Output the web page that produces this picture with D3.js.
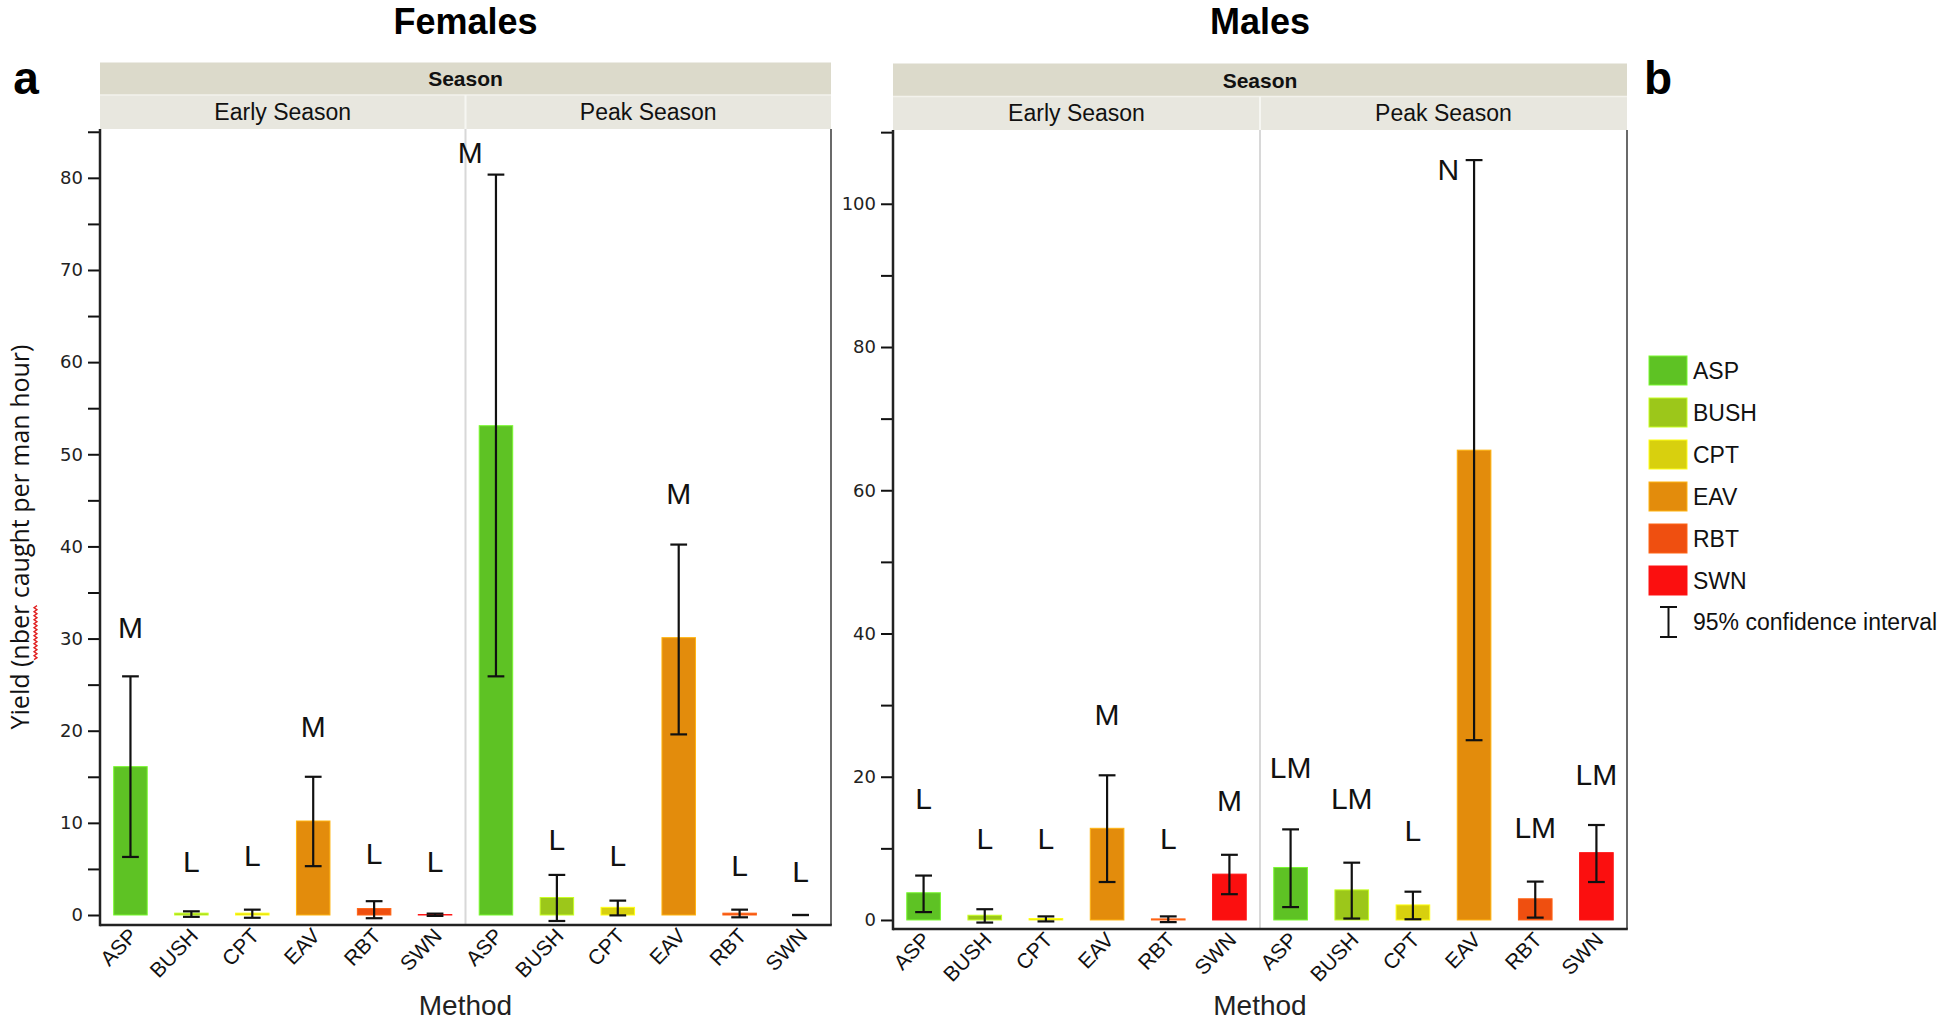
<!DOCTYPE html>
<html><head><meta charset="utf-8">
<script src="https://cdn.jsdelivr.net/npm/d3@7"></script>
<style>body{margin:0;background:#fff}svg{display:block}</style>
</head><body>
<svg id="chart" width="1960" height="1020"></svg>
<script>
// ---------------- data ----------------
const methods = ["ASP", "BUSH", "CPT", "EAV", "RBT", "SWN"];
const seasons = ["Early Season", "Peak Season"];
const methodColors = ["#5ec224", "#9cc71a", "#d8d00e", "#e38c0c", "#ef4f10", "#fb0f0f"];

const femaleEarly       = [16.1, 0.2, 0.2, 10.2, 0.7, 0.05];
const femaleEarlyLo     = [6.3, -0.2, -0.3, 5.3, -0.35, -0.1];
const femaleEarlyHi     = [25.9, 0.4, 0.58, 15.0, 1.5, 0.15];
const femaleEarlyLetters  = ["M", "L", "L", "M", "L", "L"];
const femaleEarlyLetterAt = [31.3, 5.9, 6.5, 20.5, 6.7, 5.9];

const femalePeak        = [53.1, 1.9, 0.83, 30.1, 0.2, 0];
const femalePeakLo      = [25.9, -0.65, -0.04, 19.6, -0.25, 0];
const femalePeakHi      = [80.35, 4.35, 1.56, 40.2, 0.58, 0];
const femalePeakLetters   = ["M", "L", "L", "M", "L", "L"];
const femalePeakLetterAt  = [82.8, 8.3, 6.5, 45.8, 5.4, 4.8];

const maleEarly         = [3.8, 0.66, 0.2, 12.8, 0.15, 6.4];
const maleEarlyLo       = [1.1, -0.36, -0.2, 5.3, -0.3, 3.6];
const maleEarlyHi       = [6.2, 1.5, 0.5, 20.2, 0.5, 9.1];
const maleEarlyLetters    = ["L", "L", "L", "M", "L", "M"];
const maleEarlyLetterAt   = [17.0, 11.5, 11.5, 28.7, 11.5, 16.8];

const malePeak          = [7.33, 4.2, 2.1, 65.6, 2.96, 9.4];
const malePeakLo        = [1.8, 0.2, 0.1, 25.1, 0.33, 5.3];
const malePeakHi        = [12.65, 8.0, 3.95, 106.1, 5.36, 13.26];
const malePeakLetters     = ["LM", "LM", "L", "N", "LM", "LM"];
const malePeakLetterAt    = [21.3, 17.0, 12.6, 104.9, 13.0, 20.4];

const femaleTicks = [0, 10, 20, 30, 40, 50, 60, 70, 80];
const femaleMinorTicks = [5, 15, 25, 35, 45, 55, 65, 75, 85];
const maleTicks = [0, 20, 40, 60, 80, 100];
const maleMinorTicks = [10, 30, 50, 70, 90, 110];

const titles = ["Females", "Males"];
const panelLetters = ["a", "b"];
const headerTitle = "Season";
const xTitle = "Method";
const yTitle = "Yield (nber caught per man hour)";
const ciLabel = "95% confidence interval";

// ---------------- helpers ----------------
function rows(season, vals, lo, hi, letters, at) {
  return methods.map((m, i) => ({
    key: season + "|" + m, season, method: m, color: methodColors[i],
    v: vals[i], lo: lo[i], hi: hi[i], letter: letters[i], at: at[i]
  }));
}
const femaleData = rows(seasons[0], femaleEarly, femaleEarlyLo, femaleEarlyHi, femaleEarlyLetters, femaleEarlyLetterAt)
  .concat(rows(seasons[1], femalePeak, femalePeakLo, femalePeakHi, femalePeakLetters, femalePeakLetterAt));
const maleData = rows(seasons[0], maleEarly, maleEarlyLo, maleEarlyHi, maleEarlyLetters, maleEarlyLetterAt)
  .concat(rows(seasons[1], malePeak, malePeakLo, malePeakHi, malePeakLetters, malePeakLetterAt));

const svg = d3.select("#chart");
const SANS = "'Liberation Sans', Arial, Helvetica, sans-serif";

function drawPanel(cfg) {
  const g = svg.append("g");
  const { x0, x1, yTop, yBottom, hTop, hMid, domain, data, ticks, minor, title } = cfg;

  const x = d3.scaleBand().domain(data.map(d => d.key)).range([x0, x1])
    .paddingInner(0.45).paddingOuter(0.225);
  const xs = d3.scaleBand().domain(seasons).range([x0, x1]);
  const y = d3.scaleLinear().domain(domain).range([yBottom, yTop]);

  // title
  g.append("text").attr("x", (x0 + x1) / 2).attr("y", 34).attr("text-anchor", "middle")
    .style("font", "bold 36px " + SANS).attr("fill", "#000").text(title);

  // header bands
  g.append("rect").attr("x", x0).attr("y", hTop).attr("width", x1 - x0).attr("height", hMid - hTop).attr("fill", "#dcdacb");
  g.append("rect").attr("x", x0).attr("y", hMid).attr("width", x1 - x0).attr("height", yTop - hMid).attr("fill", "#e8e7df");
  g.append("line").attr("x1", x0).attr("x2", x1).attr("y1", hMid).attr("y2", hMid).attr("stroke", "#f3f2ec").attr("stroke-width", 1.5);
  g.append("text").attr("x", (x0 + x1) / 2).attr("y", (hTop + hMid) / 2 + 7.5).attr("text-anchor", "middle")
    .style("font", "bold 21px " + SANS).attr("fill", "#111").text(headerTitle);
  g.append("line").attr("x1", xs(seasons[1])).attr("x2", xs(seasons[1])).attr("y1", hMid).attr("y2", yTop)
    .attr("stroke", "#f6f6f2").attr("stroke-width", 2);
  g.selectAll(".sl").data(seasons).join("text")
    .attr("x", d => xs(d) + xs.bandwidth() / 2).attr("y", (hMid + yTop) / 2 + 8).attr("text-anchor", "middle")
    .style("font", "23px " + SANS).attr("fill", "#111").text(d => d);

  // season divider in plot
  g.append("line").attr("x1", xs(seasons[1])).attr("x2", xs(seasons[1])).attr("y1", yTop).attr("y2", yBottom)
    .attr("stroke", "#d8d8d8").attr("stroke-width", 2);

  // bars
  g.selectAll(".bar").data(data).join("rect")
    .attr("x", d => x(d.key)).attr("width", x.bandwidth())
    .attr("y", d => y(Math.max(0, d.v))).attr("height", d => Math.abs(y(0) - y(d.v)))
    .attr("fill", d => d.color)
    .attr("stroke", d => d3.color(d.color).brighter(0.7)).attr("stroke-width", 1);

  // error bars
  const cap = x.bandwidth() * 0.25;
  const eb = g.selectAll(".eb").data(data).join("g").attr("stroke", "#111").attr("stroke-width", 2.2);
  eb.append("line").attr("x1", d => x(d.key) + x.bandwidth() / 2).attr("x2", d => x(d.key) + x.bandwidth() / 2)
    .attr("y1", d => y(d.lo)).attr("y2", d => y(d.hi));
  eb.append("line").attr("x1", d => x(d.key) + x.bandwidth() / 2 - cap).attr("x2", d => x(d.key) + x.bandwidth() / 2 + cap)
    .attr("y1", d => y(d.lo)).attr("y2", d => y(d.lo));
  eb.append("line").attr("x1", d => x(d.key) + x.bandwidth() / 2 - cap).attr("x2", d => x(d.key) + x.bandwidth() / 2 + cap)
    .attr("y1", d => y(d.hi)).attr("y2", d => y(d.hi));

  // significance letters (shifted left when they would sit on the CI top)
  g.selectAll(".let").data(data).join("text")
    .attr("x", d => x(d.key) + x.bandwidth() / 2 - ((y(d.hi) - y(d.at)) < 30 ? x.step() * 0.42 : 0))
    .attr("y", d => y(d.at) + 11).attr("text-anchor", "middle")
    .style("font", "30px " + SANS).attr("fill", "#111").text(d => d.letter);

  // y axis
  const ya = g.append("g").attr("transform", `translate(${x0},0)`)
    .call(d3.axisLeft(y).tickValues(ticks).tickSize(12).tickPadding(5));
  ya.select(".domain").remove();
  ya.selectAll("line").attr("stroke", "#111").attr("stroke-width", 2);
  ya.selectAll("text").style("font", "18px 'DejaVu Sans', sans-serif").attr("fill", "#222");
  const ym = g.append("g").attr("transform", `translate(${x0},0)`)
    .call(d3.axisLeft(y).tickValues(minor.filter(v => v <= domain[1])).tickSize(12).tickFormat(""));
  ym.select(".domain").remove();
  ym.selectAll("line").attr("stroke", "#111").attr("stroke-width", 2);

  // x axis labels
  const xa = g.append("g").attr("transform", `translate(0,${yBottom})`)
    .call(d3.axisBottom(x).tickSize(0).tickFormat(k => k.split("|")[1]));
  xa.select(".domain").remove();
  xa.selectAll("text").attr("text-anchor", "end").attr("dy", 0).attr("y", 0)
    .attr("transform", "translate(8,12) rotate(-46)")
    .style("font", "21px " + SANS).attr("fill", "#111");

  // frame
  g.append("line").attr("x1", x1).attr("x2", x1).attr("y1", yTop).attr("y2", yBottom).attr("stroke", "#444").attr("stroke-width", 1.6);
  g.append("line").attr("x1", x0).attr("x2", x0).attr("y1", yTop).attr("y2", yBottom + 1.2).attr("stroke", "#222").attr("stroke-width", 2.5);
  g.append("line").attr("x1", x0).attr("x2", x1 + 0.8).attr("y1", yBottom).attr("y2", yBottom).attr("stroke", "#222").attr("stroke-width", 2.5);

  // x title
  g.append("text").attr("x", (x0 + x1) / 2).attr("y", 1015).attr("text-anchor", "middle")
    .style("font", "28px " + SANS).attr("fill", "#222").text(xTitle);
}

drawPanel({ x0: 100, x1: 831, yTop: 129, yBottom: 925, hTop: 62.5, hMid: 95,
  domain: [-1.085, 85.3], data: femaleData, ticks: femaleTicks, minor: femaleMinorTicks, title: titles[0] });
drawPanel({ x0: 893, x1: 1627, yTop: 130, yBottom: 929, hTop: 63.5, hMid: 96.5,
  domain: [-1.26, 110.3], data: maleData, ticks: maleTicks, minor: maleMinorTicks, title: titles[1] });

// panel letters
svg.append("text").attr("x", 26).attr("y", 94).attr("text-anchor", "middle").style("font", "bold 46px " + SANS).text(panelLetters[0]);
svg.append("text").attr("x", 1644).attr("y", 94).style("font", "bold 46px " + SANS).text(panelLetters[1]);

// y title with spell-check squiggle
const yt = svg.append("g").attr("transform", "translate(20,537) rotate(-90)");
const ytText = yt.append("text").attr("x", 0).attr("y", 9).attr("text-anchor", "middle")
  .style("font", "25px 'Open Sans', sans-serif").attr("fill", "#111").text(yTitle);
{
  const node = ytText.node();
  const total = node.getComputedTextLength();
  const start = -total / 2 + node.getSubStringLength(0, 7);
  const len = node.getSubStringLength(7, 4);
  const pts = [];
  for (let i = 0; i <= Math.round(len / 2); i++) pts.push([start + i * 2, 15 + (i % 2 ? 2 : -1)]);
  yt.append("path").attr("d", d3.line()(pts)).attr("fill", "none").attr("stroke", "#e02020").attr("stroke-width", 1.3);
}

// legend
const lg = svg.append("g");
lg.selectAll("rect").data(methods).join("rect")
  .attr("x", 1649).attr("y", (d, i) => 356 + i * 42).attr("width", 38).attr("height", 29)
  .attr("fill", (d, i) => methodColors[i]).attr("stroke", (d, i) => d3.color(methodColors[i]).brighter(0.7)).attr("stroke-width", 1);
lg.selectAll("text.m").data(methods).join("text").attr("class", "m")
  .attr("x", 1693).attr("y", (d, i) => 356 + i * 42 + 23).style("font", "23px " + SANS).attr("fill", "#111").text(d => d);
const ci = lg.append("g").attr("stroke", "#111").attr("stroke-width", 2);
ci.append("line").attr("x1", 1668.5).attr("x2", 1668.5).attr("y1", 607).attr("y2", 637);
ci.append("line").attr("x1", 1660).attr("x2", 1677).attr("y1", 607).attr("y2", 607);
ci.append("line").attr("x1", 1660).attr("x2", 1677).attr("y1", 637).attr("y2", 637);
lg.append("text").attr("x", 1693).attr("y", 630).style("font", "23px " + SANS).attr("fill", "#111").text(ciLabel);
</script>
</body></html>
